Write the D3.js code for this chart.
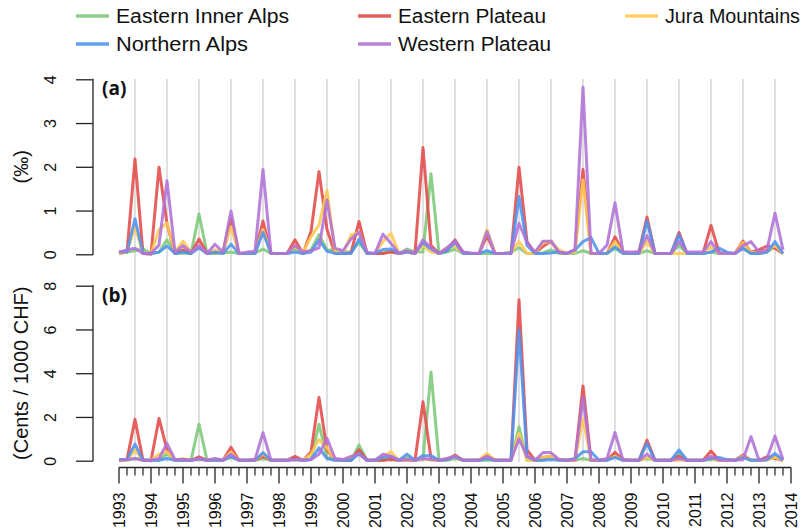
<!DOCTYPE html>
<html><head><meta charset="utf-8">
<script src="https://cdn.jsdelivr.net/npm/d3@7"></script>
<style>body{margin:0;background:#fff}svg{display:block}</style>
</head><body>
<script>
// Quarterly observations 1993 Q1 .. 2013 Q4 (84 quarters)
const startYear = 1993, endYear = 2014;
const regions = ["Eastern Inner Alps","Eastern Plateau","Jura Mountains","Northern Alps","Western Plateau"];
const regionColors = ["#7cc878","#e24a4a","#ffc850","#4f93ef","#b072d6"];
const yTicksA = [0,1,2,3,4];
const yTicksB = [0,2,4,6,8];
const yearTicks = d3.range(1993, 2015);

// Panel (a): loss ratio, permille
const aEasternInnerAlps = [0.02,0.05,0.08,0.12,0.02,0.05,0.33,0.02,0.03,0.02,0.92,0.02,0.02,0.03,0.05,0.02,0.02,0.03,0.12,0.02,0.02,0.02,0.10,0.03,0.10,0.45,0.10,0.10,0.05,0.05,0.27,0.02,0.02,0.03,0.08,0.02,0.12,0.05,0.05,1.84,0.02,0.05,0.12,0.02,0.02,0.02,0.02,0.02,0.02,0.05,0.15,0.02,0.02,0.03,0.10,0.02,0.02,0.02,0.08,0.02,0.02,0.02,0.14,0.02,0.02,0.02,0.08,0.02,0.02,0.02,0.20,0.02,0.02,0.02,0.05,0.02,0.02,0.02,0.14,0.02,0.02,0.05,0.17,0.02];
const aEasternPlateau = [0.02,0.05,2.18,0.02,0.00,1.99,0.70,0.02,0.10,0.02,0.35,0.02,0.05,0.05,0.80,0.02,0.02,0.02,0.76,0.02,0.02,0.02,0.33,0.02,0.52,1.89,0.57,0.02,0.02,0.03,0.75,0.02,0.02,0.02,0.05,0.02,0.05,0.02,2.44,0.20,0.02,0.10,0.33,0.05,0.02,0.02,0.42,0.02,0.02,0.02,1.99,0.29,0.02,0.18,0.30,0.05,0.02,0.10,1.94,0.02,0.02,0.02,0.40,0.05,0.02,0.06,0.85,0.02,0.02,0.02,0.50,0.02,0.02,0.02,0.66,0.04,0.02,0.02,0.30,0.05,0.10,0.19,0.14,0.02];
const aJuraMountains = [0.02,0.05,0.63,0.02,0.02,0.56,0.72,0.05,0.30,0.05,0.15,0.02,0.10,0.05,0.63,0.02,0.02,0.03,0.56,0.02,0.02,0.02,0.18,0.05,0.40,0.67,1.46,0.05,0.03,0.44,0.50,0.02,0.02,0.29,0.48,0.02,0.05,0.02,0.20,0.05,0.02,0.15,0.18,0.02,0.02,0.02,0.56,0.02,0.02,0.03,0.29,0.02,0.02,0.27,0.29,0.10,0.02,0.05,1.70,0.02,0.02,0.02,0.29,0.02,0.02,0.02,0.29,0.02,0.02,0.02,0.02,0.02,0.02,0.02,0.17,0.02,0.02,0.02,0.27,0.05,0.02,0.10,0.20,0.02];
const aNorthernAlps = [0.05,0.05,0.81,0.02,0.02,0.05,0.19,0.02,0.05,0.02,0.15,0.02,0.05,0.02,0.23,0.02,0.02,0.02,0.50,0.02,0.02,0.02,0.05,0.02,0.05,0.33,0.07,0.02,0.02,0.02,0.34,0.02,0.02,0.11,0.12,0.02,0.05,0.02,0.27,0.12,0.02,0.08,0.27,0.02,0.02,0.02,0.08,0.02,0.02,0.02,1.32,0.20,0.02,0.02,0.03,0.05,0.02,0.10,0.29,0.38,0.02,0.02,0.17,0.02,0.02,0.02,0.76,0.02,0.02,0.02,0.44,0.02,0.02,0.02,0.05,0.14,0.05,0.02,0.14,0.02,0.02,0.05,0.29,0.02];
const aWesternPlateau = [0.05,0.10,0.14,0.02,0.02,0.21,1.68,0.05,0.20,0.05,0.20,0.02,0.23,0.05,0.99,0.02,0.05,0.07,1.94,0.02,0.02,0.02,0.20,0.05,0.08,0.15,1.24,0.14,0.08,0.35,0.50,0.05,0.02,0.46,0.25,0.02,0.08,0.02,0.33,0.15,0.02,0.15,0.30,0.05,0.03,0.02,0.52,0.02,0.02,0.03,0.71,0.27,0.05,0.30,0.30,0.05,0.02,0.10,3.82,0.02,0.02,0.21,1.18,0.05,0.05,0.05,0.43,0.02,0.02,0.02,0.29,0.05,0.05,0.05,0.29,0.02,0.02,0.02,0.20,0.29,0.05,0.10,0.94,0.10];

// Panel (b): cents per 1000 CHF
const bEasternInnerAlps = [0.02,0.02,0.10,0.05,0.02,0.02,0.33,0.02,0.02,0.02,1.67,0.02,0.02,0.02,0.15,0.02,0.02,0.02,0.10,0.02,0.02,0.02,0.10,0.02,0.05,1.67,0.15,0.05,0.02,0.02,0.71,0.02,0.02,0.02,0.10,0.02,0.15,0.02,0.05,4.06,0.02,0.02,0.10,0.02,0.02,0.02,0.02,0.02,0.02,0.02,1.55,0.02,0.02,0.02,0.15,0.02,0.02,0.02,0.10,0.02,0.02,0.02,0.20,0.02,0.02,0.02,0.10,0.02,0.02,0.02,0.33,0.02,0.02,0.02,0.05,0.02,0.02,0.02,0.15,0.02,0.02,0.02,0.20,0.02];
const bEasternPlateau = [0.02,0.05,1.89,0.02,0.00,1.93,0.50,0.02,0.05,0.02,0.18,0.02,0.02,0.02,0.61,0.02,0.02,0.02,0.20,0.02,0.02,0.02,0.20,0.02,0.40,2.89,0.50,0.02,0.02,0.02,0.50,0.02,0.02,0.02,0.05,0.02,0.02,0.02,2.69,0.10,0.02,0.05,0.26,0.02,0.02,0.02,0.26,0.02,0.02,0.02,7.36,0.49,0.02,0.15,0.20,0.05,0.02,0.02,3.42,0.02,0.02,0.02,0.38,0.05,0.02,0.02,0.94,0.02,0.02,0.02,0.20,0.02,0.02,0.02,0.44,0.02,0.02,0.02,0.26,0.02,0.02,0.18,0.10,0.02];
const bJuraMountains = [0.02,0.02,0.49,0.02,0.02,0.30,0.41,0.02,0.10,0.02,0.05,0.02,0.02,0.02,0.40,0.02,0.02,0.02,0.30,0.02,0.02,0.02,0.05,0.02,0.30,0.97,0.60,0.02,0.02,0.15,0.30,0.02,0.02,0.20,0.41,0.02,0.02,0.02,0.10,0.02,0.02,0.10,0.20,0.02,0.02,0.02,0.33,0.02,0.02,0.02,1.25,0.02,0.02,0.15,0.20,0.05,0.02,0.02,1.93,0.02,0.02,0.02,0.20,0.02,0.02,0.02,0.15,0.02,0.02,0.02,0.02,0.02,0.02,0.02,0.10,0.02,0.02,0.02,0.20,0.02,0.02,0.05,0.15,0.02];
const bNorthernAlps = [0.05,0.05,0.76,0.02,0.02,0.02,0.10,0.02,0.02,0.02,0.08,0.02,0.02,0.02,0.20,0.02,0.02,0.02,0.37,0.02,0.02,0.02,0.05,0.02,0.05,0.59,0.10,0.02,0.02,0.02,0.33,0.02,0.02,0.15,0.20,0.02,0.30,0.02,0.23,0.23,0.02,0.05,0.20,0.02,0.02,0.02,0.10,0.02,0.02,0.02,5.99,0.20,0.02,0.02,0.05,0.02,0.02,0.10,0.41,0.41,0.02,0.02,0.15,0.02,0.02,0.02,0.79,0.02,0.02,0.02,0.49,0.02,0.02,0.02,0.10,0.15,0.05,0.02,0.15,0.02,0.02,0.05,0.33,0.02];
const bWesternPlateau = [0.02,0.05,0.10,0.02,0.02,0.10,0.79,0.05,0.05,0.02,0.10,0.02,0.10,0.02,0.30,0.02,0.02,0.05,1.28,0.02,0.02,0.02,0.05,0.02,0.05,0.30,1.02,0.10,0.05,0.20,0.30,0.02,0.02,0.30,0.20,0.02,0.05,0.02,0.10,0.05,0.02,0.10,0.20,0.02,0.02,0.02,0.20,0.02,0.02,0.02,1.00,0.20,0.02,0.37,0.37,0.05,0.02,0.05,2.90,0.02,0.02,0.10,1.29,0.02,0.02,0.02,0.30,0.02,0.02,0.02,0.10,0.02,0.02,0.02,0.20,0.02,0.02,0.02,0.05,1.10,0.02,0.10,1.13,0.05];

const seriesA = [aEasternInnerAlps,aEasternPlateau,aJuraMountains,aNorthernAlps,aWesternPlateau];
const seriesB = [bEasternInnerAlps,bEasternPlateau,bJuraMountains,bNorthernAlps,bWesternPlateau];
const quarterTime = d3.range(aEasternPlateau.length).map(i => startYear + i/4);

const W = 804, H = 530;
const svg = d3.select("body").append("svg").attr("width", W).attr("height", H)
  .style("font-family", "'Liberation Sans', Arial, sans-serif");

const x = d3.scaleLinear().domain([startYear, endYear]).range([119, 791]);
const yA = d3.scaleLinear().domain([0, 4]).range([254.3, 79.3]);
const yB = d3.scaleLinear().domain([0, 8]).range([460.7, 285.7]);

// vertical grey lines mid-year
svg.append("g").selectAll("line").data(d3.range(1993, 2014)).join("line")
  .attr("x1", d => x(d + 0.5)).attr("x2", d => x(d + 0.5))
  .attr("y1", 79).attr("y2", 462)
  .attr("stroke", "#d9d9d9").attr("stroke-width", 1.6);

function panel(y, series, ticks, title, tag) {
  const g = svg.append("g");
  const ax = g.append("g").attr("transform", "translate(93,0)")
    .call(d3.axisLeft(y).tickValues(ticks).tickSize(17).tickFormat(d3.format("d")));
  ax.select(".domain").attr("d", `M-0.5,${y(0)}H0V${y(ticks[ticks.length-1])}H-0.5`).attr("stroke", "#222").attr("stroke-width", 1.3);
  ax.selectAll(".tick line").attr("stroke", "#222").attr("stroke-width", 1.3);
  ax.selectAll(".tick text").attr("font-size", 16).attr("fill", "#111")
    .attr("font-family", "'Liberation Sans', Arial, sans-serif")
    .attr("x", null).attr("y", null).attr("dy", null)
    .attr("transform", "translate(-43,0) rotate(-90)").attr("text-anchor", "middle").attr("dominant-baseline", "central");
  const mid = (y.range()[0] + y.range()[1]) / 2;
  g.append("text").attr("transform", `translate(21,${mid}) rotate(-90)`)
    .attr("text-anchor", "middle").attr("dominant-baseline", "central")
    .attr("font-size", 20).attr("fill", "#111").text(title);
  g.append("text").attr("x", 102).attr("y", y.range()[1] + 16)
    .attr("font-family", "'Open Sans', sans-serif").attr("font-weight", "bold")
    .attr("font-size", 19).attr("fill", "#111").text(tag);
  const line = d3.line().x((d, i) => x(quarterTime[i])).y(d => y(d));
  g.append("g").selectAll("path").data(series).join("path")
    .attr("d", d => line(d)).attr("fill", "none")
    .attr("stroke", (d, i) => regionColors[i]).attr("stroke-width", 3)
    .attr("stroke-opacity", 0.88).attr("stroke-linejoin", "round");
}
panel(yA, seriesA, yTicksA, "(‰)", "(a)");
panel(yB, seriesB, yTicksB, "(Cents / 1000 CHF)", "(b)");

// x axis
const xa = svg.append("g").attr("transform", "translate(0,467.5)");
xa.append("line").attr("x1", x(startYear)).attr("x2", x(endYear)).attr("stroke", "#222").attr("stroke-width", 1.3);
xa.selectAll("line.minor").data(d3.range(startYear, endYear, 0.25).filter((d, i) => i % 4 !== 0)).join("line")
  .attr("class", "minor").attr("x1", d => x(d)).attr("x2", d => x(d)).attr("y1", 0).attr("y2", 8)
  .attr("stroke", "#222").attr("stroke-width", 1.2);
xa.selectAll("line.major").data(yearTicks).join("line")
  .attr("class", "major").attr("x1", d => x(d)).attr("x2", d => x(d)).attr("y1", 0).attr("y2", 16)
  .attr("stroke", "#222").attr("stroke-width", 1.3);
xa.selectAll("text").data(yearTicks).join("text")
  .attr("transform", d => `translate(${x(d)},25) rotate(-90)`)
  .attr("text-anchor", "end").attr("dominant-baseline", "central")
  .attr("font-size", 16).attr("fill", "#111").text(d => d);

// legend
const legendPos = [[76,16],[358,16],[625,16],[76,44],[358,44]];
const legendWidths = [173, 148, 135, 132, 153];
const lg = svg.append("g").selectAll("g").data(regions).join("g")
  .attr("transform", (d, i) => `translate(${legendPos[i][0]},${legendPos[i][1]})`);
lg.append("line").attr("x1", 0).attr("x2", 33).attr("stroke", (d, i) => regionColors[i]).attr("stroke-width", 3.5).attr("stroke-opacity", 0.88);
lg.append("text").attr("x", 40).attr("dominant-baseline", "central").attr("font-size", 20).attr("fill", "#111")
  .attr("textLength", (d, i) => legendWidths[i]).attr("lengthAdjust", "spacingAndGlyphs").text(d => d);
</script>
</body></html>
